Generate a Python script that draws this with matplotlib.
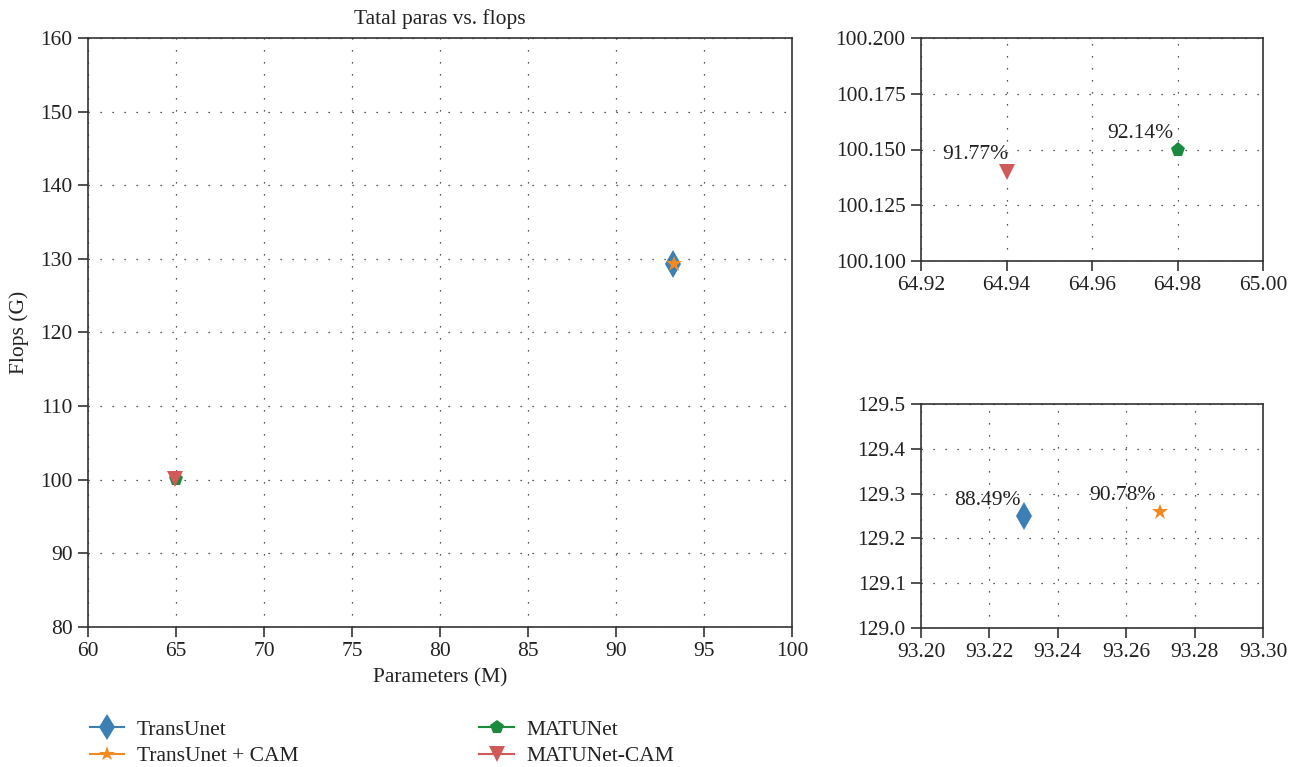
import matplotlib
matplotlib.use("Agg")
import matplotlib.pyplot as plt

plt.rcParams['font.family'] = ['Liberation Serif', 'DejaVu Serif']
plt.rcParams['text.color'] = '#222222'
plt.rcParams['axes.labelcolor'] = '#222222'
plt.rcParams['xtick.color'] = '#333333'
plt.rcParams['ytick.color'] = '#333333'
plt.rcParams['xtick.labelcolor'] = '#222222'
plt.rcParams['ytick.labelcolor'] = '#222222'

# models: params (M), flops (G), accuracy label
names = ["TransUnet", "TransUnet + CAM", "MATUNet", "MATUNet-CAM"]
params = [93.23, 93.27, 64.98, 64.94]
flops = [129.25, 129.26, 100.15, 100.14]
acc = ["88.49%", "90.78%", "92.14%", "91.77%"]

colors = ["#3b7fb5", "#f28a22", "#1b8a3e", "#d05a5a"]
markers = ["d", "*", "p", "v"]
msizes = [14, 12, 11, 12]
# label offsets in points (x, y) relative to the marker
lab_off = [(-2, 8), (-3, 8), (-3, 8), (1.5, 9)]

main_xticks = [60, 65, 70, 75, 80, 85, 90, 95, 100]
main_yticks = [80, 90, 100, 110, 120, 130, 140, 150, 160]
top_xticks = [64.92, 64.94, 64.96, 64.98, 65.00]
top_yticks = [100.100, 100.125, 100.150, 100.175, 100.200]
bot_xticks = [93.20, 93.22, 93.24, 93.26, 93.28, 93.30]
bot_yticks = [129.0, 129.1, 129.2, 129.3, 129.4, 129.5]

FS = 15.5

fig = plt.figure(figsize=(12.98, 7.67), dpi=100)
W, H = 1298, 767

def box(l, t, r, b):
    return [l / W, 1 - b / H, (r - l) / W, (b - t) / H]

ax = fig.add_axes(box(88, 38, 792, 627))
ax_top = fig.add_axes(box(921, 38, 1263, 261))
ax_bot = fig.add_axes(box(921, 404, 1263, 628))

def style(a):
    for s in a.spines.values():
        s.set_color('#333333')
        s.set_linewidth(1.2)
    a.tick_params(direction='out', length=7, width=1.2, labelsize=FS, pad=4)
    a.grid(True, linestyle=(0, (1, 8.6)), color='#222222', linewidth=0.9)
    a.set_axisbelow(True)

lines = []
for i in range(4):
    ln, = ax.plot(params[i], flops[i], marker=markers[i], color=colors[i],
                  markersize=msizes[i], linestyle='-', linewidth=1.5,
                  markeredgewidth=0, label=names[i])
    lines.append(ln)
ax.set_xlim(60, 100)
ax.set_ylim(80, 160)
ax.set_xticks(main_xticks)
ax.set_yticks(main_yticks)
ax.set_xlabel("Parameters (M)", fontsize=FS, labelpad=5)
ax.set_ylabel("Flops (G)", fontsize=FS, labelpad=8)
ax.set_title("Tatal paras vs. flops", fontsize=FS, pad=10)
style(ax)

for a, idx, xt, yt, fmt in [(ax_top, [2, 3], top_xticks, top_yticks, "%.3f"),
                            (ax_bot, [0, 1], bot_xticks, bot_yticks, "%.1f")]:
    for i in idx:
        a.plot(params[i], flops[i], marker=markers[i], color=colors[i],
               markersize=msizes[i], markeredgewidth=0, linestyle='none')
        a.annotate(acc[i], (params[i], flops[i]), xytext=lab_off[i],
                   textcoords='offset points', ha='right', va='baseline',
                   fontsize=FS)
    a.set_xlim(xt[0], xt[-1])
    a.set_ylim(yt[0], yt[-1])
    a.set_xticks(xt)
    a.set_yticks(yt)
    a.set_xticklabels(["%.2f" % v for v in xt])
    a.set_yticklabels([fmt % v for v in yt])
    style(a)

fig.legend(handles=lines, loc='upper left', bbox_to_anchor=(81 / W, 1 - 711 / H),
           ncol=2, frameon=False, fontsize=FS, handlelength=1.6, markerscale=0.95,
           handletextpad=0.6, columnspacing=8.4, labelspacing=0.3,
           borderaxespad=0)

fig.savefig("out.png", dpi=100)
